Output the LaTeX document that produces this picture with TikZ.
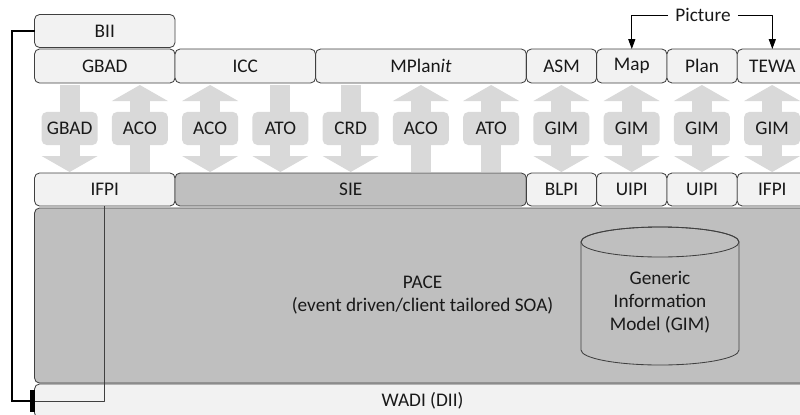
\documentclass[tikz,border=0pt]{standalone}
\usepackage{fontspec}
\setmainfont{Carlito}
\usetikzlibrary{arrows.meta,positioning}

\definecolor{boxlight}{HTML}{F2F2F2}
\definecolor{boxdark}{HTML}{BFBFBF}
\definecolor{flow}{HTML}{D9D9D9}
\definecolor{edge}{HTML}{404040}
\newlength\colw \setlength\colw{1.75625cm}
\newcommand\boxfont{\fontsize{13.7}{16.3}\selectfont}

\begin{document}
\begin{tikzpicture}[x=0.025cm, y=-0.025cm, >=Latex, line join=round,
	box/.style={draw=edge, line width=0.6pt, fill=boxlight, rounded corners=3.6pt, inner sep=0pt,
		outer sep=0pt, anchor=north west, minimum width=\colw, minimum height=0.85cm,
		font=\boxfont, text=black!90},
	dark/.style={box, fill=boxdark},
	tag/.style={fill=flow, rounded corners=3.6pt, inner sep=0pt, minimum width=1.4cm,
		minimum height=0.825cm, font=\boxfont, text=black!90},
	link/.style={draw=edge, line width=0.6pt}]
	
	\useasboundingbox (0,0) rectangle (800,414);
	\clip (0,0) rectangle (800,414);
	
	% client applications
	\node[box, minimum width=2\colw, minimum height=0.825cm] (BII) at (34.5,14.5) {BII};
	\node[box, minimum width=2\colw] (GBAD) at (34.5,49) {GBAD};
	\node[box, minimum width=2\colw, right=0pt of GBAD] (ICC) {ICC};
	\node[box, minimum width=3\colw, right=0pt of ICC] (MPlan) {MPlan\textit{it}};
	\node[box, right=0pt of MPlan] (ASM) {ASM};
	\node[box, right=0pt of ASM] (Map) {Map};
	\node[box, right=0pt of Map] (Plan) {Plan};
	\node[box, right=0pt of Plan] (TEWA) {TEWA};
	
	% interfaces
	\node[box, minimum width=2\colw, minimum height=0.825cm] (IFPIa) at (34.5,173) {IFPI};
	\node[dark, minimum width=5\colw, minimum height=0.825cm, right=0pt of IFPIa] (SIE) {SIE};
	\node[box, minimum height=0.825cm, right=0pt of SIE] (BLPI) {BLPI};
	\node[box, minimum height=0.825cm, right=0pt of BLPI] (UIPIa) {UIPI};
	\node[box, minimum height=0.825cm, right=0pt of UIPIa] (UIPIb) {UIPI};
	\node[box, minimum height=0.825cm, right=0pt of UIPIb] (IFPIb) {IFPI};
	
	% message flows
	\foreach \i/\lab/\up/\dn in {0/GBAD/0/1, 1/ACO/1/0, 2/ACO/1/1, 3/ATO/0/1, 4/CRD/0/1,
		5/ACO/1/0, 6/ATO/1/0, 7/GIM/1/1, 8/GIM/1/1, 9/GIM/1/1, 10/GIM/1/1}{
		\pgfmathsetmacro\cx{34.5+(\i+0.5)*70.25}
		\pgfmathsetmacro\ya{\up==1 ? 100 : 85}
		\pgfmathsetmacro\yb{\dn==1 ? 157 : 172}
		\fill[flow] (\cx-10,\ya) rectangle (\cx+10,\yb);
		\ifnum\up=1 \fill[flow] (\cx,85) -- (\cx+28,101) -- (\cx-28,101) -- cycle; \fi
		\ifnum\dn=1 \fill[flow] (\cx,172) -- (\cx+28,156) -- (\cx-28,156) -- cycle; \fi
		\node[tag] (f\i) at (\cx,128.5) {\lab};
	}
	
	% middleware and bottom layer
	\node[dark, minimum width=19.4cm, minimum height=4.375cm, align=center] (PACE) at (34.5,208)
		{PACE\\(event driven/client tailored SOA)};
	\node[box, minimum width=19.4cm, minimum height=0.85cm] (WADI) at (34.5,384) {WADI (DII)};
	
	% database
	\filldraw[fill=boxdark, draw=edge, line width=0.6pt] (581,242) -- (581,350)
		arc[start angle=180, end angle=360, x radius=1.975cm, y radius=0.375cm]
		-- (739,242) arc[start angle=0, end angle=180, x radius=1.975cm, y radius=0.375cm] -- cycle;
	\draw[edge, line width=0.6pt] (660,242) ellipse[x radius=1.975cm, y radius=0.375cm];
	\node[font=\boxfont, align=center, text=black!90] (GIM) at (660,302)
		{Generic\\Information\\Model (GIM)};
	
	% picture feed
	\node[font=\boxfont, text=black!90, inner xsep=5pt] (pic) at (703,15) {Picture};
	\draw[-{Triangle[width=5pt,length=7pt]}, line width=0.6pt] (pic.west) -| (Map.north);
	\draw[-{Triangle[width=5pt,length=7pt]}, line width=0.6pt] (pic.east) -| (TEWA.north);
	
	% links to WADI
	\draw[link] (IFPIa.south) |- (WADI.west);
	\draw[line width=1.8pt, line join=miter, -{Bar[width=16pt, line width=3.2pt]}]
		(BII.west) -- ++(-22.5,0) |- (WADI.west);
	
\end{tikzpicture}
\end{document}
